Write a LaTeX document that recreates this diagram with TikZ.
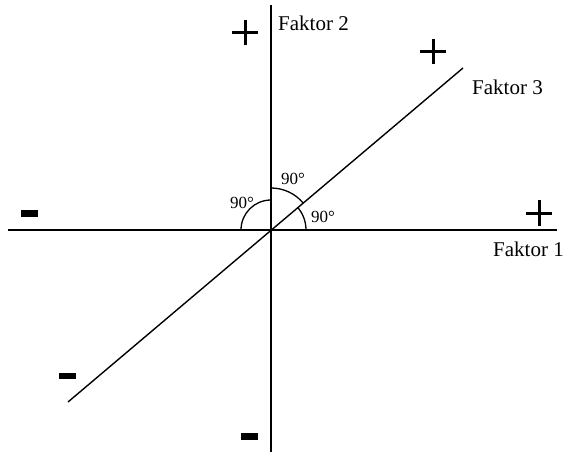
\documentclass[tikz,border=0pt]{standalone}
\usepackage{fontspec}
\setmainfont{Liberation Serif}
\begin{document}
\begin{tikzpicture}[x=1pt,y=-1pt,
  axis/.style={line width=1.4pt,black},
  arcmark/.style={line width=1.3pt,black},
  plussign/.style={line width=3pt,black},
  minussign/.style={fill=black,draw=none},
  lab/.style={font=\fontsize{21}{24}\selectfont,inner sep=0pt,anchor=base west},
  deg/.style={font=\fontsize{17}{20}\selectfont,inner sep=0pt}]
\useasboundingbox (0,0) rectangle (566,452);
\coordinate (O) at (271,230);
\coordinate (hl) at (8,230);
\coordinate (hr) at (557,230);
\coordinate (vt) at (271,5);
\coordinate (vb) at (271,452);
\coordinate (dl) at (68,402);
\coordinate (dr) at (463,68);
\draw[axis] (hl) -- (hr);
\draw[axis] (vt) -- (vb);
\draw[axis] (dl) -- (dr);
% angle arcs (y axis flipped: visual up is -90)
\draw[arcmark] ([shift={(180:30)}]O) arc[start angle=180,end angle=270,radius=30];
\draw[arcmark] ([shift={(-90:42)}]O) arc[start angle=-90,end angle=-40.3,radius=42];
\draw[arcmark] ([shift={(0:35)}]O) arc[start angle=0,end angle=-40.3,radius=35];
\node[deg] (d1) at (242,203) {90°};
\node[deg] (d2) at (293,179) {90°};
\node[deg] (d3) at (323,217) {90°};
% labels
\node[lab] (f2) at (278,31) {Faktor 2};
\node[lab] (f3) at (472,95) {Faktor 3};
\node[lab] (f1) at (493,256) {Faktor 1};
% plus signs
\coordinate (p1) at (245,33);
\coordinate (p2) at (433,52);
\coordinate (p3) at (539,213);
\foreach \p in {p1,p2,p3}{
  \draw[plussign] ([xshift=-13pt]\p) -- ([xshift=13pt]\p);
  \draw[plussign] ([yshift=-12.5pt]\p) -- ([yshift=12.5pt]\p);
}
% minus signs
\fill[minussign] (21,210) rectangle (38,217);
\fill[minussign] (59,373) rectangle (76,379);
\fill[minussign] (241,433) rectangle (258,440);
\end{tikzpicture}
\end{document}
